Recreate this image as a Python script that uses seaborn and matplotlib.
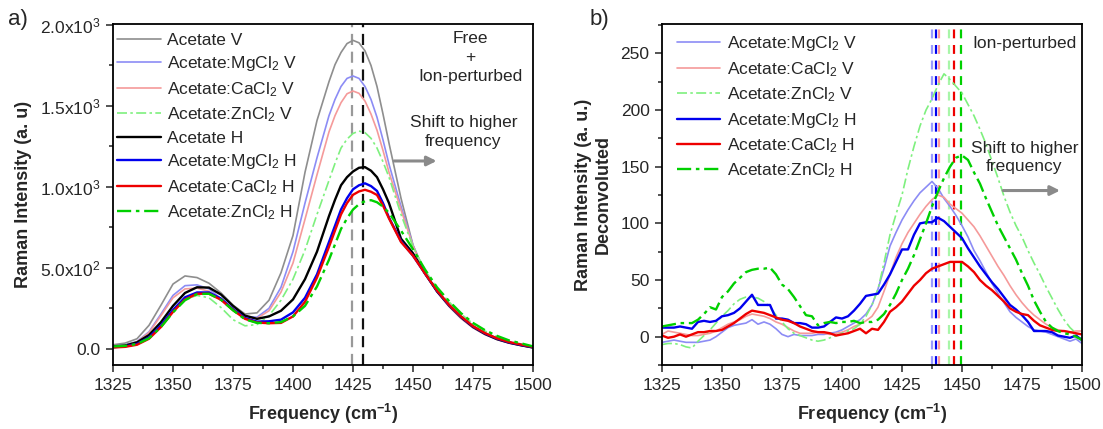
import numpy as np
import pandas as pd
import matplotlib
matplotlib.use("Agg")
import matplotlib.pyplot as plt
from matplotlib.ticker import MultipleLocator
import seaborn as sns

# ---------------- data: panel a ----------------
freq_a = [1325, 1330, 1335, 1340, 1345, 1350, 1355, 1360, 1365, 1370, 1375, 1380, 1385,
          1390, 1395, 1400, 1405, 1410, 1415,
          1417.5, 1420, 1422.5, 1425, 1427.5, 1430, 1432.5, 1435, 1437.5, 1440,
          1445, 1450, 1455, 1460, 1465, 1470, 1475, 1480, 1485, 1490, 1495, 1500]
acetate_v = [25, 35, 62, 145, 270, 400, 450, 440, 405, 345, 270, 215, 222, 300, 470, 700, 1090, 1410, 1650,
             1755, 1830, 1885, 1905, 1890, 1840, 1750, 1620, 1450, 1270,
             930, 640, 470, 355, 268, 195, 135, 92, 60, 38, 22, 8]
mg_v = [15, 25, 45, 105, 215, 330, 390, 395, 370, 310, 245, 200, 195, 250, 380, 600, 900, 1180, 1440,
        1540, 1620, 1670, 1685, 1670, 1620, 1540, 1430, 1290, 1140,
        880, 640, 470, 352, 262, 188, 130, 88, 57, 35, 20, 6]
ca_v = [12, 22, 42, 100, 205, 315, 370, 375, 355, 300, 235, 190, 188, 235, 350, 530, 800, 1075, 1340,
        1440, 1520, 1575, 1592, 1578, 1530, 1450, 1350, 1225, 1090,
        860, 635, 470, 352, 262, 188, 130, 88, 57, 35, 20, 6]
zn_v = [15, 20, 35, 75, 150, 240, 305, 330, 315, 255, 180, 142, 150, 205, 300, 430, 610, 830, 1040,
        1145, 1240, 1295, 1330, 1345, 1335, 1300, 1240, 1155, 1060,
        830, 630, 485, 375, 290, 215, 155, 110, 75, 48, 30, 14]
acetate_h = [15, 20, 40, 85, 165, 265, 345, 380, 378, 335, 265, 205, 185, 200, 235, 305, 430, 600, 820,
             920, 1010, 1060, 1095, 1118, 1122, 1100, 1060, 985, 900,
             680, 590, 465, 355, 268, 195, 135, 92, 60, 38, 22, 8]
mg_h = [10, 15, 30, 70, 145, 240, 318, 348, 348, 310, 245, 190, 168, 170, 180, 225, 315, 460, 660,
        760, 860, 930, 985, 1010, 1022, 1005, 975, 900, 810,
        665, 575, 465, 358, 270, 198, 138, 95, 63, 40, 24, 10]
ca_h = [8, 12, 25, 62, 135, 228, 305, 340, 340, 303, 240, 185, 162, 158, 160, 200, 290, 440, 630,
        730, 830, 900, 951, 972, 982, 970, 950, 885, 805,
        660, 575, 465, 360, 272, 200, 140, 97, 65, 42, 26, 12]
zn_h = [15, 18, 30, 65, 135, 225, 300, 338, 340, 303, 238, 182, 160, 158, 165, 200, 265, 385, 550,
        645, 740, 805, 860, 893, 912, 918, 905, 878, 840,
        730, 615, 490, 380, 295, 220, 160, 115, 80, 52, 34, 15]
labels_a = ["Acetate V", "Acetate:MgCl$_2$ V", "Acetate:CaCl$_2$ V", "Acetate:ZnCl$_2$ V",
            "Acetate H", "Acetate:MgCl$_2$ H", "Acetate:CaCl$_2$ H", "Acetate:ZnCl$_2$ H"]
vlines_a = [1424.5, 1429]

# ---------------- data: panel b ----------------
freq_b = [1325 + 2.5 * i for i in range(71)]
mg_v_b = [-5, -4, -3, -4, -5, -5, -5, -4, -3, 0, 4, 8, 10, 11, 12, 15, 11, 13, 11, 7,
          2, 0, 2, 1, 1, 1, 2, 2, 3, 4, 6, 9, 12, 15, 20, 28, 42, 60, 80, 92,
          103, 112, 120, 127, 132, 137, 131, 122, 115, 107, 98, 88, 76, 67, 57, 47, 38, 30, 22, 17,
          13, 9, 6, 5, 4, 2, 0, -2, -4, -2, -6]
ca_v_b = [2, 5, 4, 3, 2, 1, 1, 2, 3, 5, 8, 11, 13, 15, 18, 20, 19, 18, 16, 13,
          11, 8, 5, 3, 3, 3, 4, 3, 2, 3, 4, 6, 9, 11, 14, 18, 26, 40, 55, 70,
          82, 92, 100, 108, 115, 121, 125, 123, 117, 113, 109, 103, 97, 89, 80, 71, 62, 54, 45, 37,
          30, 24, 19, 15, 11, 8, 6, 5, 4, 5, 5]
zn_v_b = [-7, -6, -6, -7, -9, -10, -4, 1, 6, 12, 18, 23, 29, 33, 35, 35, 34, 31, 26, 19,
          13, 7, 3, 1, -1, -3, -4, -3, -1, 1, 3, 5, 7, 11, 18, 28, 42, 65, 90, 108,
          125, 148, 168, 186, 200, 210, 222, 232, 227, 221, 215, 205, 195, 183, 170, 155, 140, 124, 110, 98,
          88, 76, 65, 55, 44, 34, 24, 15, 8, 3, -2]
mg_h_b = [8, 8, 8, 9, 8, 7, 13, 14, 13, 14, 18, 19, 21, 25, 31, 37, 28, 28, 28, 16,
          16, 15, 12, 12, 11, 8, 8, 9, 13, 17, 16, 18, 23, 29, 36, 37, 38, 46, 55, 66,
          77, 77, 90, 100, 101, 101, 105, 102, 97, 92, 87, 78, 70, 62, 55, 48, 42, 35, 28, 24,
          19, 13, 5, 5, 5, 4, 1, 0, -1, 1, -3]
ca_h_b = [1, -1, 0, 2, 0, 2, 4, 4, 5, 5, 6, 9, 12, 16, 20, 23, 22, 21, 19, 17,
          15, 14, 12, 9, 7, 5, 4, 4, 3, 1, 2, 3, 5, 7, 3, 7, 6, 13, 22, 26,
          31, 38, 45, 50, 56, 60, 62, 64, 66, 66, 66, 62, 57, 50, 45, 41, 36, 31, 25, 22,
          20, 19, 14, 10, 8, 6, 5, 5, 4, 3, 2]
zn_h_b = [9, 10, 11, 12, 12, 12, 15, 20, 26, 24, 35, 40, 47, 52, 57, 59, 60, 60, 61, 55,
          46, 42, 35, 27, 19, 18, 10, 12, 13, 12, 13, 13, 14, 12, 13, 13, 15, 20, 28, 38,
          50, 60, 72, 86, 100, 115, 128, 140, 150, 158, 160, 156, 145, 135, 122, 110, 98, 88, 78, 68,
          56, 45, 32, 22, 13, 8, 5, 3, 2, 0, -3]
labels_b = ["Acetate:MgCl$_2$ V", "Acetate:CaCl$_2$ V", "Acetate:ZnCl$_2$ V",
            "Acetate:MgCl$_2$ H", "Acetate:CaCl$_2$ H", "Acetate:ZnCl$_2$ H"]
vlines_b = [1437.5, 1439, 1440.5, 1444.5, 1446.5, 1449.5]

# ---------------- style ----------------
sns.set_style("ticks")
plt.rcParams["font.family"] = ["Liberation Sans", "DejaVu Sans"]
plt.rcParams["mathtext.fontset"] = "custom"
plt.rcParams["mathtext.rm"] = "Liberation Sans"
plt.rcParams["mathtext.it"] = "Liberation Sans:italic"
plt.rcParams["mathtext.bf"] = "Liberation Sans:bold"

c_gray = "#8e8e8e"
c_lblue = "#8c8cf5"
c_lred = "#f59a9a"
c_lgreen = "#7ef07e"
c_black = "#000000"
c_blue = "#0000ee"
c_red = "#ee0000"
c_green = "#00d000"
dashdot = (0, (6, 2, 1.5, 2))
FS = 12.5

fig = plt.figure(figsize=(11.03, 4.29), dpi=100)
ax1 = fig.add_axes([113 / 1103, 64 / 429, 420 / 1103, 341 / 429])
ax2 = fig.add_axes([662 / 1103, 64 / 429, 420 / 1103, 341 / 429])

styles_a = [
    (acetate_v, c_gray, "-", 1.2),
    (mg_v, c_lblue, "-", 1.2),
    (ca_v, c_lred, "-", 1.2),
    (zn_v, c_lgreen, dashdot, 1.2),
    (acetate_h, c_black, "-", 1.7),
    (mg_h, c_blue, "-", 1.7),
    (ca_h, c_red, "-", 1.7),
    (zn_h, c_green, dashdot, 1.7),
]
for (vals, col, ls, lw), lab in zip(styles_a, labels_a):
    sns.lineplot(x=freq_a, y=vals, ax=ax1, color=col, linestyle=ls, linewidth=lw, label=lab)

ax1.axvline(vlines_a[0], color="#999999", linestyle=(0, (5, 3)), linewidth=1.6, zorder=1)
ax1.axvline(vlines_a[1], color="#111111", linestyle=(0, (5, 3)), linewidth=1.6, zorder=1)

styles_b = [
    (mg_v_b, c_lblue, "-", 1.2),
    (ca_v_b, c_lred, "-", 1.2),
    (zn_v_b, c_lgreen, dashdot, 1.2),
    (mg_h_b, c_blue, "-", 1.7),
    (ca_h_b, c_red, "-", 1.7),
    (zn_h_b, c_green, dashdot, 1.7),
]
for (vals, col, ls, lw), lab in zip(styles_b, labels_b):
    sns.lineplot(x=freq_b, y=vals, ax=ax2, color=col, linestyle=ls, linewidth=lw, label=lab)

vcols_b = ["#9a9aff", c_blue, "#ff9a9a", "#a8f5a8", c_red, c_green]
for xv, col in zip(vlines_b, vcols_b):
    ax2.axvline(xv, color=col, linestyle=(0, (4, 3)), linewidth=1.6, zorder=1)

# ---------------- axes formatting ----------------
for ax in (ax1, ax2):
    ax.set_xlim(1325, 1500)
    ax.xaxis.set_major_locator(MultipleLocator(25))
    ax.xaxis.set_minor_locator(MultipleLocator(12.5))
    ax.tick_params(axis="both", which="major", direction="out", length=5, width=1.1,
                   labelsize=FS, top=False, right=False, pad=4)
    ax.tick_params(axis="both", which="minor", direction="out", length=3, width=1.1,
                   top=False, right=False)
    for s in ax.spines.values():
        s.set_visible(True)
        s.set_linewidth(1.3)
        s.set_color("black")
    ax.set_xlabel("Frequency (cm$^{\\mathbf{-1}}$)", fontsize=13, fontweight="bold", labelpad=7)

ax1.set_ylim(-100, 2006)
yt_a = [0, 500, 1000, 1500, 2000]
yl_a = ["0.0", "5.0x10$^2$", "1.0x10$^3$", "1.5x10$^3$", "2.0x10$^3$"]
ax1.set_yticks(yt_a)
ax1.set_yticklabels(yl_a)
ax1.yaxis.set_minor_locator(MultipleLocator(250))
ax1.set_ylabel("Raman Intensity (a. u)", fontsize=13, fontweight="bold", labelpad=6)

ax2.set_ylim(-25, 276)
ax2.yaxis.set_major_locator(MultipleLocator(50))
ax2.yaxis.set_minor_locator(MultipleLocator(25))
ax2.set_ylabel("Raman Intensity (a. u.)\nDeconvoluted", fontsize=13, fontweight="bold",
               labelpad=6, linespacing=1.25)

# legends
ax1.legend(loc="upper left", bbox_to_anchor=(-0.01, 1.0), frameon=False, fontsize=FS,
           handlelength=2.5, handletextpad=0.35, labelspacing=0.38, borderaxespad=0.1)
ax2.legend(loc="upper left", bbox_to_anchor=(0.01, 1.0), frameon=False, fontsize=FS,
           handlelength=2.5, handletextpad=0.4, labelspacing=0.38, borderaxespad=0.2)

# annotations panel a
ax1.text(1474, 1800, "Free\n+\nIon-perturbed", ha="center", va="center", fontsize=FS,
         linespacing=1.35)
ax1.text(1471, 1340, "Shift to higher\nfrequency", ha="center", va="center", fontsize=FS,
         linespacing=1.3)
ax1.annotate("", xy=(1461, 1160), xytext=(1441, 1160),
             arrowprops=dict(arrowstyle="-|>", color="#8a8a8a", lw=2.2, mutation_scale=14))

# annotations panel b
ax2.text(1476, 259, "Ion-perturbed", ha="center", va="center", fontsize=FS)
ax2.text(1476, 158, "Shift to higher\nfrequency", ha="center", va="center", fontsize=FS,
         linespacing=1.3)
ax2.annotate("", xy=(1492, 129), xytext=(1466, 129),
             arrowprops=dict(arrowstyle="-|>", color="#8a8a8a", lw=2.2, mutation_scale=14))

fig.text(8 / 1103, 1 - 20 / 429, "a)", fontsize=16, ha="left", va="center")
fig.text(590 / 1103, 1 - 20 / 429, "b)", fontsize=16, ha="left", va="center")

fig.savefig("out.png", dpi=100)
